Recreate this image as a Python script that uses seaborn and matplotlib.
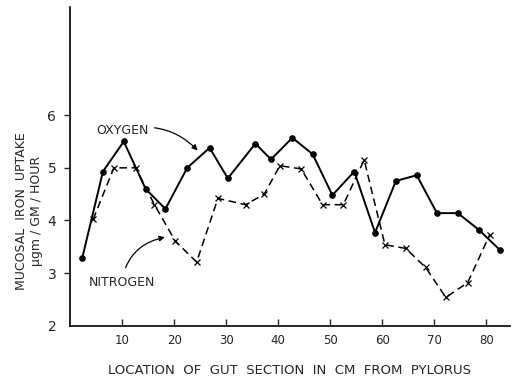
import matplotlib
matplotlib.use("Agg")
import matplotlib.pyplot as plt
import seaborn as sns
import pandas as pd

# Mucosal iron uptake along the gut, oxygen vs nitrogen atmosphere
oxygen_cm = [2.3, 6.3, 10.3, 14.5, 18.3, 22.5, 26.8, 30.3, 35.6, 38.6, 42.7,
             46.6, 50.4, 54.6, 58.6, 62.6, 66.6, 70.5, 74.5, 78.6, 82.6]
oxygen_uptake = [3.28, 4.93, 5.50, 4.60, 4.22, 5.00, 5.38, 4.80, 5.46, 5.16, 5.57,
                 5.26, 4.48, 4.93, 3.77, 4.75, 4.86, 4.14, 4.14, 3.82, 3.44]

nitrogen_cm = [4.4, 8.4, 12.6, 16.2, 20.2, 24.3, 28.4, 33.7, 37.3, 40.3,
               44.4, 48.5, 52.5, 56.5, 60.5, 64.5, 68.3, 72.2, 76.4, 80.6]
nitrogen_uptake = [4.02, 5.00, 5.00, 4.30, 3.61, 3.21, 4.42, 4.30, 4.50, 5.04,
                   4.98, 4.30, 4.30, 5.15, 3.54, 3.47, 3.11, 2.54, 2.82, 3.72]

x_ticks = [10, 20, 30, 40, 50, 60, 70, 80]
y_ticks = [2, 3, 4, 5, 6]

sns.set_theme(style="ticks")
plt.rcParams["font.family"] = ["DejaVu Sans"]

ox = pd.DataFrame({"cm": oxygen_cm, "uptake": oxygen_uptake})
ni = pd.DataFrame({"cm": nitrogen_cm, "uptake": nitrogen_uptake})

fig = plt.figure(figsize=(5.16, 3.78), dpi=100)
ax = fig.add_axes([0.136, 0.138, 0.852, 0.843])

sns.lineplot(data=ox, x="cm", y="uptake", ax=ax, color="black", linewidth=1.4,
             marker="o", markersize=4, markeredgecolor="black", sort=False)
sns.lineplot(data=ni, x="cm", y="uptake", ax=ax, color="black", linewidth=1.1,
             linestyle=(0, (5, 3)), marker="x", markersize=4.5,
             markeredgewidth=0.9, markeredgecolor="black", sort=False)

ax.set_xlim(0, 84.5)
ax.set_ylim(2, 8.05)
ax.set_xticks(x_ticks)
ax.set_xticklabels([str(t) for t in x_ticks], fontsize=8.5)
ax.set_yticks(y_ticks)
ax.set_yticklabels([str(t) for t in y_ticks], fontsize=10)
ax.tick_params(axis="x", direction="in", length=5, width=1, pad=6)
ax.tick_params(axis="y", direction="out", length=4, width=1, pad=6)
ax.yaxis.get_major_ticks()[0].tick1line.set_visible(False)
for side in ("top", "right"):
    ax.spines[side].set_visible(False)
for side in ("left", "bottom"):
    ax.spines[side].set_linewidth(1.2)
    ax.spines[side].set_color("black")

ax.set_xlabel("LOCATION  OF  GUT  SECTION  IN  CM  FROM  PYLORUS",
              fontsize=9.5, labelpad=12)
ylab = ax.set_ylabel("MUCOSAL  IRON  UPTAKE\n\u00b5gm / GM / HOUR", fontsize=9,
                     linespacing=1.25)
ylab.set_verticalalignment("center")
ax.yaxis.set_label_coords(-0.094, 0.36)

ax.annotate("OXYGEN", xy=(24.5, 5.33), xytext=(5, 5.7), fontsize=9,
            va="center", ha="left",
            arrowprops=dict(arrowstyle="-|>", color="black", lw=0.9,
                            mutation_scale=8,
                            shrinkA=2, shrinkB=0,
                            connectionstyle="arc3,rad=-0.3"))
ax.annotate("NITROGEN", xy=(18.2, 3.68), xytext=(3.5, 2.82), fontsize=9,
            va="center", ha="left",
            arrowprops=dict(arrowstyle="-|>", color="black", lw=0.9,
                            mutation_scale=8,
                            shrinkA=4, shrinkB=0,
                            connectionstyle="arc3,rad=-0.35"))

fig.savefig("out.png", dpi=100)
